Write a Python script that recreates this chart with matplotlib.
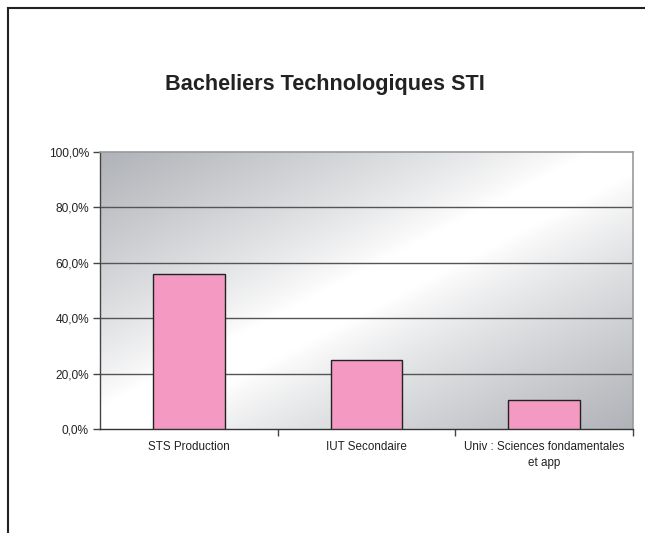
import matplotlib
matplotlib.use("Agg")
import matplotlib.pyplot as plt
import numpy as np
from matplotlib.lines import Line2D

categories = ["STS Production", "IUT Secondaire", "Univ : Sciences fondamentales\net app"]
values = [56.0, 24.9, 10.5]
yticks = [0, 20, 40, 60, 80, 100]
ytick_labels = ["0,0%", "20,0%", "40,0%", "60,0%", "80,0%", "100,0%"]
title = "Bacheliers Technologiques STI"

plt.rcParams['font.family'] = ['Liberation Sans', 'DejaVu Sans']

fig = plt.figure(figsize=(6.45, 5.33), dpi=100)
ax = fig.add_axes([100/645, 1-429/533, (633-100)/645, (429-152)/533])

# gradient background
n = 300
xx, yy = np.meshgrid(np.linspace(0, 1, n), np.linspace(1, 0, n))
d = np.abs(xx - yy)
d = np.clip((d - 0.08) / 0.92, 0, 1) ** 0.85
white = np.array([1.0, 1.0, 1.0])
gray = np.array([0.69, 0.70, 0.72])
img = white[None, None, :] * (1 - d[..., None]) + gray[None, None, :] * d[..., None]
ax.imshow(img, extent=[0, 1, 0, 1], transform=ax.transAxes, aspect='auto', zorder=0)

x = np.arange(len(categories))
ax.bar(x, values, width=0.405, color="#f49ac2", edgecolor="#222222", linewidth=1.0, zorder=3)

ax.set_xlim(-0.5, len(categories) - 0.5)
ax.set_ylim(0, 100)
ax.set_yticks(yticks)
ax.set_yticklabels(ytick_labels, fontsize=8.6, color="#222222")
for yv in yticks[1:-1]:
    ax.axhline(yv, color="#555555", linewidth=1.0, zorder=2)

ax.set_xticks(x)
ax.set_xticklabels(categories, fontsize=8.4, color="#222222", linespacing=1.35)
ax.tick_params(axis='x', which='major', length=0, pad=9)
ax.set_xticks([0.5, 1.5, 2.5], minor=True)
ax.tick_params(axis='x', which='minor', length=5, width=1, color="#444444", direction='out')
ax.tick_params(axis='y', length=5, width=1, color="#444444", direction='out', pad=3)

for s in ['top', 'right']:
    ax.spines[s].set_color("#9a9a9a")
    ax.spines[s].set_linewidth(1.2)
ax.spines['left'].set_color("#444444")
ax.spines['bottom'].set_color("#333333")
ax.spines['left'].set_linewidth(1.0)
ax.spines['bottom'].set_linewidth(1.0)

fig.text(325/645, 1-90/533, title, ha='center', va='baseline', fontsize=15.6, fontweight='bold', color="#222222")

# outer frame (top and left visible)
fig.add_artist(Line2D([8/645, 1.0], [1-8/533, 1-8/533], transform=fig.transFigure, color="#222222", linewidth=1.5))
fig.add_artist(Line2D([8/645, 8/645], [0.0, 1-8/533], transform=fig.transFigure, color="#222222", linewidth=1.5))

fig.savefig("out.png", dpi=100)
